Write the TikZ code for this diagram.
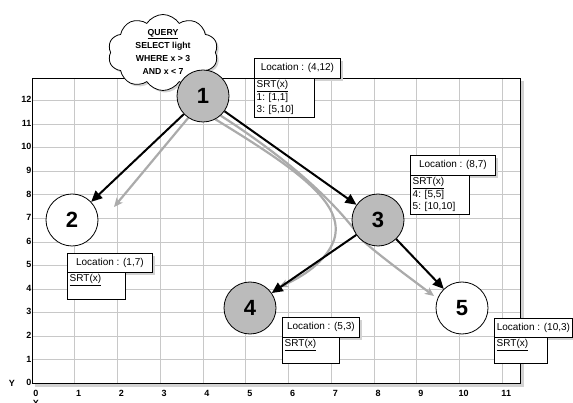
\documentclass[tikz,border=0pt]{standalone}
\usepackage{fontspec}
\setmainfont{Liberation Sans}
\usetikzlibrary{arrows.meta,shapes.symbols,shadows}
\definecolor{gridgray}{HTML}{C8C8C8}
\definecolor{nodegray}{HTML}{BBBBBB}
\definecolor{pathgray}{HTML}{ABABAB}
\definecolor{shadegray}{HTML}{D2D2D2}
\pgfdeclarelayer{gridlayer}
\pgfdeclarelayer{linklayer}
\pgfsetlayers{gridlayer,linklayer,main}
\tikzset{
  gridline/.style={draw=gridgray,line width=1pt},
  axlab/.style={font=\bfseries\fontsize{9}{10}\selectfont,inner sep=0pt},
  sensor/.style={circle,draw,line width=0.8pt,minimum size=52pt,inner sep=0pt,font=\bfseries\fontsize{22}{22}\selectfont},
  active/.style={sensor,fill=nodegray},
  idle/.style={sensor,fill=white},
  hdr/.style={draw,fill=white,line width=0.8pt,anchor=north west,minimum height=20pt,inner sep=0pt,font=\fontsize{10}{11}\selectfont},
  bodybox/.style={draw,fill=white,line width=0.8pt,anchor=north west,inner sep=0pt},
  bodytext/.style={anchor=north west,align=left,inner xsep=2.5pt,inner ysep=2.5pt,font=\fontsize{10}{12.5}\selectfont},
  link/.style={line width=2pt,-{Triangle[length=11pt,width=10pt]}},
  route/.style={draw=pathgray,line width=2.2pt,-{Stealth[length=9pt,width=8pt,inset=2.5pt]}},
  query/.style={cloud,cloud puffs=10,cloud puff arc=115,draw,line width=0.8pt,fill=white,
    drop shadow={shadow xshift=2pt,shadow yshift=-2pt,fill=shadegray,opacity=1}},
  querytext/.style={align=center,inner sep=0pt,font=\bfseries\fontsize{8.7}{13}\selectfont},
}
\begin{document}
\begin{tikzpicture}[x=1pt,y=-1pt]
\useasboundingbox (0,0) rectangle (573,403);

% grid with axes
\begin{pgfonlayer}{gridlayer}
\fill[shadegray] (35,81) rectangle (523.5,386.5);
\fill[white] (32,78) rectangle (520.5,383.5);
\foreach \u in {1,...,11} \draw[gridline] ({32+42.75*\u},78) -- ({32+42.75*\u},383.5);
\foreach \v in {1,...,12} \draw[gridline] (32,{383.5-23.57*\v}) -- (520.5,{383.5-23.57*\v});
\draw[line width=0.9pt] (32,383.5) -- (32,78) -- (520.5,78) -- (520.5,383.5);
\draw[line width=1.6pt] (31.5,383.5) -- (521,383.5);
\foreach \u in {0,...,11} \node[axlab] (xl\u) at ({36+42.75*\u},393) {\u};
\foreach \v in {0,...,12} \node[axlab,anchor=east] (yl\v) at (31.5,{382.5-23.57*\v}) {\v};
\node[axlab] (yname) at (12,383.5) {Y};
\node[axlab] (xname) at (36,403.5) {X};
\end{pgfonlayer}

% query cloud
\node[query,minimum width=110pt,minimum height=76pt] (q) at (163,52.5) {};
\node[querytext] (qt) at (163,51.5) {\underline{QUERY}\\SELECT light\\WHERE x > 3\\AND x < 7};

% location boxes
\fill[shadegray] (257,61) rectangle (343,81);
\node[bodybox,minimum width=60pt,minimum height=39pt] (b1) at (254,78) {};
\node[bodytext] (t1) at (b1.north west) {\underline{SRT(x)}\\1: [1,1]\\3: [5,10]};
\node[hdr,minimum width=86pt] (h1) at (254,58) {Location : (4,12)};

\fill[shadegray] (413,158) rectangle (498,178);
\node[bodybox,minimum width=59pt,minimum height=39pt] (b3) at (410,175) {};
\node[bodytext] (t3) at (b3.north west) {\underline{SRT(x)}\\4: [5,5]\\5: [10,10]};
\node[hdr,minimum width=85pt] (h3) at (410,155) {Location : (8,7)};

\fill[shadegray] (70,256) rectangle (155,275);
\node[bodybox,minimum width=58pt,minimum height=27pt] (b2) at (67,272) {};
\node[bodytext] (t2) at (b2.north west) {\underline{SRT(x)}};
\node[hdr,minimum width=85pt,minimum height=19pt] (h2) at (67,253) {Location : (1,7)};

\fill[shadegray] (285,320) rectangle (362,340);
\node[bodybox,minimum width=57pt,minimum height=26pt] (b4) at (282,337) {};
\node[bodytext] (t4) at (b4.north west) {\underline{SRT(x)}};
\node[hdr,minimum width=77pt] (h4) at (282,317) {Location : (5,3)};

\fill[shadegray] (497,321) rectangle (575,340);
\node[bodybox,minimum width=53pt,minimum height=26pt] (b5) at (494,337) {};
\node[bodytext] (t5) at (b5.north west) {\underline{SRT(x)}};
\node[hdr,minimum width=78pt,minimum height=19pt] (h5) at (494,318) {Location : (10,3)};

% sensor nodes
\node[active] (n1) at (203,96) {1};
\node[idle] (n2) at (72,220) {2};
\node[active] (n3) at (378,220) {3};
\node[active] (n4) at (250,308) {4};
\node[idle] (n5) at (462,308) {5};

% routing tree and query paths
\begin{pgfonlayer}{linklayer}
\coordinate (g2) at (114,207);
\coordinate (g4) at (279,287);
\coordinate (g5) at (434,296);
\draw[route] (n1.236) -- (g2);
\draw[route] (n1.-62) .. controls (295,168) and (346,203) .. (334,240) .. controls (326,262) and (302,277) .. (g4);
\draw[route] (n1.-48) .. controls (305,170) and (345,215) .. (362,240) .. controls (380,256) and (410,278) .. (g5);
\draw[link] (n1) -- (n2);
\draw[link] (n1) -- (n3);
\draw[link] (n3) -- (n4);
\draw[link] (n3) -- (n5);
\end{pgfonlayer}
\end{tikzpicture}
\end{document}
